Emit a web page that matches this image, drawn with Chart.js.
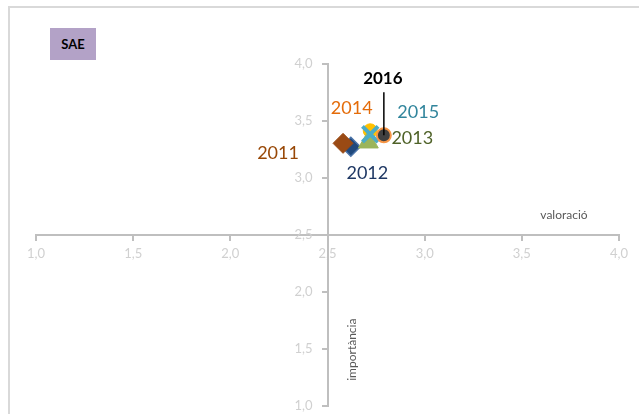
<!DOCTYPE html>
<html><head><meta charset="utf-8">
<script src="https://cdn.jsdelivr.net/npm/chart.js@4"></script>
<style>
html,body{margin:0;padding:0;background:#fff;}
#wrap{position:relative;width:639px;height:414px;overflow:hidden;}
#frame{position:absolute;left:8px;top:6px;width:700px;height:500px;border-left:2px solid #d9d9d9;border-top:2px solid #d9d9d9;}
#sae{position:absolute;left:50px;top:28px;width:46px;height:32px;background:#b3a2c7;font:bold 13px Lato, sans-serif;color:#000;display:flex;align-items:center;justify-content:center;}
canvas{position:absolute;left:0;top:0;}
</style></head>
<body><div id="wrap"><div id="frame"></div><div id="sae">SAE</div><canvas id="c" width="639" height="414"></canvas></div>
<script>
// ---- data ----
const years = ['2011', '2012', '2013', '2014', '2015', '2016'];
const valoracio = [2.58, 2.62, 2.71, 2.72, 2.72, 2.79];
const importancia = [3.30, 3.27, 3.31, 3.41, 3.38, 3.37];
const axisTicks = [1.0, 1.5, 2.0, 2.5, 3.0, 3.5, 4.0];
const xTitle = 'valoració';
const yTitle = 'importància';

// ---- styles ----
const pointStyles = ['rectRot', 'rectRot', 'triangle', 'circle', 'crossRot', 'circle'];
const pointRadii = [10, 9.5, 11.5, 7, 11, 7];
const fillColors = ['#9a4a14', '#1f497d', '#9bb55a', '#ffc000', '#4bacc6', '#404040'];
const borderColors = ['#9a4a14', '#4a73a8', '#9bb55a', '#ffc000', '#4bacc6', '#f79646'];
const borderWidths = [1, 1.5, 1, 1, 4, 2];
const drawOrder = [4, 5, 2, 3, 1, 0];
const labelColors = ['#984807', '#1f3864', '#4f6228', '#e46c0a', '#31859c', '#000000'];
const labelOffsets = [[-65, 10], [16.5, 26], [44, -4], [-18.5, -23], [48, -21.7], [-1, -57]];
const labelBold = [false, false, false, false, false, true];

const fmt = v => v.toFixed(1).replace('.', ',');

const datasets = years.map((y, i) => ({
  label: y,
  data: [{x: valoracio[i], y: importancia[i]}],
  pointStyle: pointStyles[i],
  pointRadius: pointRadii[i],
  pointHoverRadius: pointRadii[i],
  backgroundColor: fillColors[i],
  borderColor: borderColors[i],
  borderWidth: borderWidths[i],
  order: drawOrder[i]
}));

const labelPlugin = {
  id: 'yearLabels',
  beforeDraw(chart) {
    // push the centred y-axis tick labels out to the left of the axis line
    const s = chart.scales.y;
    const items = s.getLabelItems(chart.chartArea);
    const ax = chart.scales.x.getPixelForValue(2.5);
    items.forEach(it => {
      if (it.options && it.options.translation) it.options.translation[0] = ax - 15;
    });
  },
  afterDatasetsDraw(chart) {
    const ctx = chart.ctx;
    const xs = chart.scales.x, ys = chart.scales.y;
    ctx.save();
    ctx.textAlign = 'center';
    ctx.textBaseline = 'middle';
    years.forEach((y, i) => {
      const el = chart.getDatasetMeta(i).data[0];
      const [dx, dy] = labelOffsets[i];
      ctx.font = (labelBold[i] ? 'bold 17px' : '18px') + ' Lato, sans-serif';
      ctx.fillStyle = labelColors[i];
      ctx.fillText(y, el.x + dx, el.y + dy);
      if (labelBold[i]) {
        ctx.strokeStyle = '#000';
        ctx.lineWidth = 1.5;
        ctx.beginPath();
        ctx.moveTo(el.x, el.y + dy + 14);
        ctx.lineTo(el.x, el.y);
        ctx.stroke();
      }
    });
    const ax = xs.getPixelForValue(2.5), ay = ys.getPixelForValue(2.5);
    ctx.font = '12px Lato, sans-serif';
    ctx.fillStyle = '#595959';
    ctx.fillText(xTitle, chart.chartArea.right - 55, ay - 19.5);
    ctx.translate(ax + 25, ys.getPixelForValue(1.5) + 1);
    ctx.rotate(-Math.PI / 2);
    ctx.fillText(yTitle, 0, 0);
    ctx.restore();
  }
};

const zeroPad = s => { s.paddingTop = 0; s.paddingBottom = 0; s.paddingLeft = 0; s.paddingRight = 0; };

const axisCommon = {
  type: 'linear',
  min: axisTicks[0],
  max: axisTicks[axisTicks.length - 1],
  grid: {display: true, drawOnChartArea: false, drawTicks: true, tickLength: 5, color: '#bfbfbf', lineWidth: 2},
  border: {display: true, color: '#bfbfbf', width: 2}
};

new Chart(document.getElementById('c'), {
  type: 'scatter',
  data: {datasets},
  options: {
    responsive: false,
    animation: false,
    layout: {autoPadding: false, padding: {left: 36, right: 20, top: 63.5, bottom: 8.3}},
    plugins: {legend: {display: false}, tooltip: {enabled: false}},
    scales: {
      x: Object.assign({}, axisCommon, {
        position: {y: 2.5},
        afterFit: s => { s.height = 0; zeroPad(s); },
        afterBuildTicks: s => { s.ticks = axisTicks.map(v => ({value: v})); },
        ticks: {color: '#d0d0d0', font: {family: 'Lato', size: 13}, padding: 6, callback: v => fmt(v), maxRotation: 0}
      }),
      y: Object.assign({}, axisCommon, {
        position: {x: 2.5},
        afterFit: s => { s.width = 0; zeroPad(s); },
        afterBuildTicks: s => { s.ticks = axisTicks.map(v => ({value: v})); },
        ticks: {color: '#d0d0d0', font: {family: 'Lato', size: 13}, padding: 10, callback: v => fmt(v)}
      })
    }
  },
  plugins: [labelPlugin]
});
</script>
</body></html>
